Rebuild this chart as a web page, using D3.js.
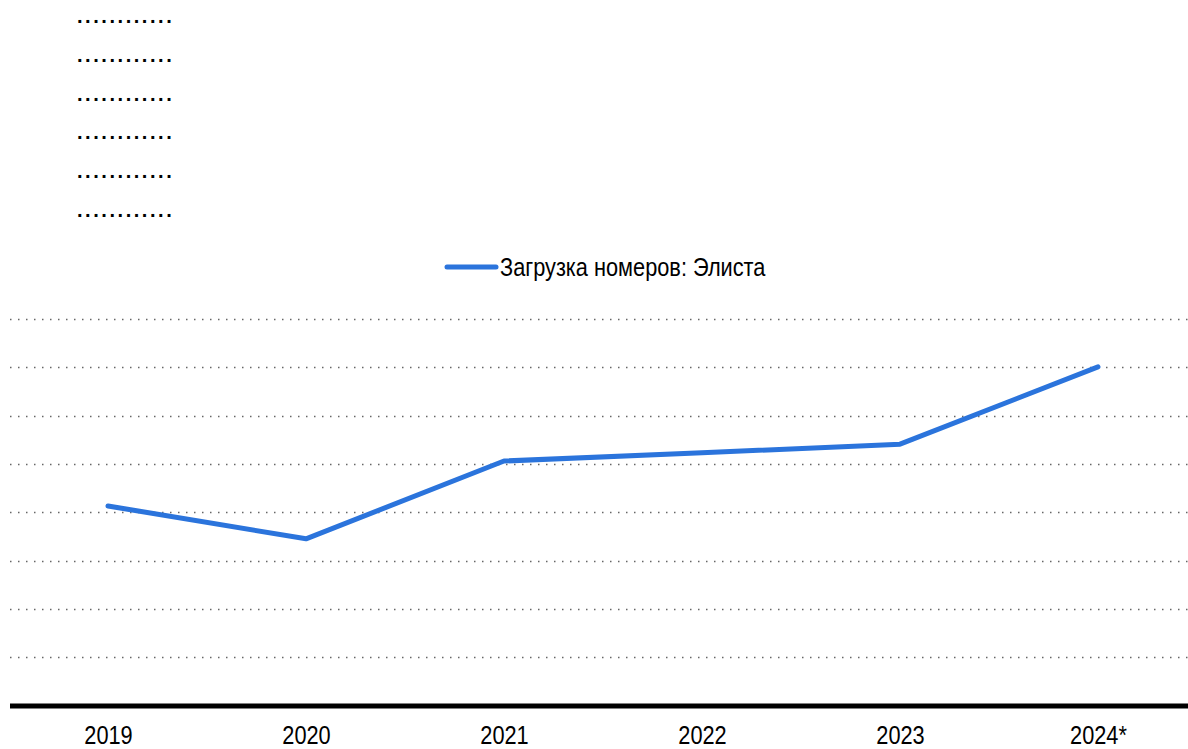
<!DOCTYPE html>
<html>
<head>
<meta charset="utf-8">
<script src="https://cdn.jsdelivr.net/npm/d3@7"></script>
<style>
  html, body { margin: 0; padding: 0; background: #fff; }
  svg { display: block; }
  text { font-family: "Liberation Sans Narrow", "Arial Narrow", "Liberation Sans", Arial, sans-serif; }
</style>
</head>
<body>
<div id="chart"></div>
<script>
// data
const years = ['2019', '2020', '2021', '2022', '2023', '2024*'];
const occupancy = [41.3, 34.5, 50.6, 52.3, 54.1, 70.1];
const yTicks = [10, 20, 30, 40, 50, 60, 70, 80];
const hiddenLabels = ['............', '............', '............', '............', '............', '............'];
const seriesName = 'Загрузка номеров: Элиста';

const width = 1188;
const height = 749;
const color = '#2b74dc';
const narrow = 0.87; // squeeze to mimic a narrow face

const svg = d3.select('#chart').append('svg')
  .attr('width', width)
  .attr('height', height);

// condense a text node horizontally
function condense(sel) {
  sel.each(function () {
    const w = this.getComputedTextLength();
    d3.select(this)
      .attr('textLength', w * narrow)
      .attr('lengthAdjust', 'spacingAndGlyphs');
  });
}

// placeholder labels top-left
svg.append('g')
  .selectAll('text')
  .data(hiddenLabels)
  .join('text')
  .attr('x', 77)
  .attr('y', (d, i) => 23 + i * 38.8)
  .attr('font-size', 20)
  .attr('font-weight', 'bold')
  .attr('letter-spacing', 2.55)
  .attr('font-family', 'Liberation Sans, Arial, sans-serif')
  .attr('fill', '#000')
  .text(d => d);

// legend
const legend = svg.append('g').attr('transform', 'translate(447,267)');
legend.append('line')
  .attr('x1', 0).attr('x2', 49)
  .attr('stroke', color)
  .attr('stroke-width', 5)
  .attr('stroke-linecap', 'round');
legend.append('text')
  .attr('x', 53)
  .attr('y', 9)
  .attr('font-size', 25)
  .attr('fill', '#000')
  .text(seriesName)
  .call(condense);

// scales
const x = d3.scalePoint()
  .domain(years)
  .range([108, 1098]);

const y = d3.scaleLinear()
  .domain([0, 80])
  .range([705.5, 319]);

// grid
svg.append('g')
  .selectAll('line')
  .data(yTicks)
  .join('line')
  .attr('x1', 10)
  .attr('x2', width)
  .attr('y1', d => Math.round(y(d)) + 0.5)
  .attr('y2', d => Math.round(y(d)) + 0.5)
  .attr('stroke', '#666')
  .attr('stroke-width', 1.5)
  .attr('stroke-dasharray', '1.5,6.5');

// baseline
svg.append('line')
  .attr('x1', 10)
  .attr('x2', width)
  .attr('y1', y(0) + 0.5)
  .attr('y2', y(0) + 0.5)
  .attr('stroke', '#000')
  .attr('stroke-width', 5);

// x axis labels
const xAxis = d3.axisBottom(x).tickSize(0).tickPadding(0);
const gx = svg.append('g')
  .attr('transform', `translate(0,${y(0) + 21})`)
  .call(xAxis);
gx.select('.domain').remove();
gx.selectAll('text')
  .attr('font-size', 25)
  .attr('font-family', null)
  .attr('fill', '#000')
  .attr('dy', '0.71em')
  .call(condense);

// line
const line = d3.line()
  .x((d, i) => x(years[i]))
  .y(d => y(d));

svg.append('path')
  .datum(occupancy)
  .attr('d', line)
  .attr('fill', 'none')
  .attr('stroke', color)
  .attr('stroke-width', 5)
  .attr('stroke-linecap', 'round')
  .attr('stroke-linejoin', 'round');
</script>
</body>
</html>
